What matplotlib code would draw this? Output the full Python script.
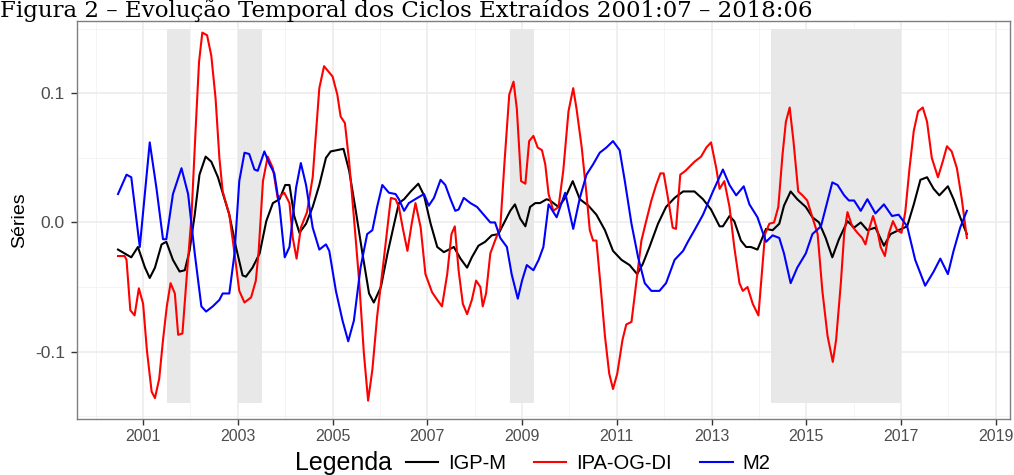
import matplotlib
matplotlib.use("Agg")
import matplotlib.pyplot as plt
from matplotlib.lines import Line2D

# series (year, value)
igp_x = [2000.47, 2000.61, 2000.75, 2000.89, 2001.04, 2001.14, 2001.25, 2001.39, 2001.49, 2001.63,
         2001.77, 2001.88, 2001.98, 2002.09, 2002.19, 2002.32, 2002.44, 2002.58, 2002.72, 2002.82,
         2002.96, 2003.10, 2003.17, 2003.31, 2003.46, 2003.60, 2003.74, 2003.88, 2004.00, 2004.09,
         2004.19, 2004.30, 2004.44, 2004.58, 2004.72, 2004.86, 2004.96, 2005.10, 2005.23, 2005.35,
         2005.49, 2005.63, 2005.77, 2005.87, 2006.02, 2006.16, 2006.30, 2006.40, 2006.51, 2006.65,
         2006.81, 2006.93, 2007.07, 2007.21, 2007.35, 2007.56, 2007.70, 2007.84, 2007.94, 2008.08,
         2008.22, 2008.36, 2008.50, 2008.64, 2008.75, 2008.85, 2008.96, 2009.07, 2009.17, 2009.28,
         2009.38, 2009.52, 2009.59, 2009.77, 2009.91, 2010.07, 2010.22, 2010.40, 2010.57, 2010.75,
         2010.92, 2011.10, 2011.27, 2011.43, 2011.55, 2011.69, 2011.87, 2012.04, 2012.22, 2012.40,
         2012.64, 2012.82, 2012.99, 2013.17, 2013.24, 2013.38, 2013.48, 2013.62, 2013.73, 2013.83,
         2013.97, 2014.15, 2014.29, 2014.43, 2014.53, 2014.67, 2014.81, 2014.99, 2015.13, 2015.27,
         2015.41, 2015.55, 2015.69, 2015.87, 2016.01, 2016.15, 2016.29, 2016.46, 2016.64, 2016.78,
         2016.95, 2017.13, 2017.27, 2017.41, 2017.55, 2017.69, 2017.81, 2017.99, 2018.11, 2018.25,
         2018.39]
igp_y = [-0.021, -0.024, -0.027, -0.019, -0.035, -0.043, -0.035, -0.017, -0.015, -0.029,
         -0.038, -0.037, -0.022, 0.006, 0.037, 0.051, 0.047, 0.035, 0.018, 0.006,
         -0.019, -0.041, -0.042, -0.035, -0.024, 0.001, 0.015, 0.018, 0.029, 0.029,
         0.005, -0.008, -0.001, 0.012, 0.029, 0.050, 0.055, 0.056, 0.057, 0.040,
         0.009, -0.024, -0.055, -0.062, -0.050, -0.024, -0.001, 0.015, 0.018, 0.024,
         0.030, 0.021, -0.001, -0.019, -0.023, -0.019, -0.028, -0.035, -0.027, -0.018,
         -0.015, -0.010, -0.009, 0.001, 0.009, 0.014, 0.003, -0.003, 0.012, 0.015,
         0.015, 0.018, 0.017, 0.012, 0.019, 0.032, 0.018, 0.013, 0.006, -0.006,
         -0.022, -0.029, -0.033, -0.040, -0.032, -0.019, -0.001, 0.012, 0.019, 0.024,
         0.024, 0.018, 0.010, -0.003, -0.003, 0.005, 0.001, -0.014, -0.019, -0.019,
         -0.021, -0.005, -0.006, -0.001, 0.013, 0.024, 0.018, 0.012, 0.004, 0.000,
         -0.012, -0.027, -0.013, 0.001, -0.004, 0.000, -0.006, -0.004, -0.018, -0.009,
         -0.006, -0.003, 0.014, 0.033, 0.035, 0.026, 0.021, 0.028, 0.018, 0.004,
         -0.009]

ipa_x = [2000.47, 2000.61, 2000.65, 2000.73, 2000.82, 2000.91, 2001.00, 2001.08, 2001.18, 2001.25,
         2001.34, 2001.42, 2001.50, 2001.58, 2001.67, 2001.74, 2001.83, 2001.91, 2002.02, 2002.11,
         2002.18, 2002.25, 2002.35, 2002.44, 2002.53, 2002.61, 2002.68, 2002.82, 2002.93, 2003.03,
         2003.14, 2003.28, 2003.38, 2003.44, 2003.53, 2003.63, 2003.74, 2003.84, 2003.98, 2004.09,
         2004.16, 2004.24, 2004.33, 2004.46, 2004.58, 2004.72, 2004.82, 2005.00, 2005.10, 2005.17,
         2005.26, 2005.35, 2005.45, 2005.56, 2005.66, 2005.75, 2005.84, 2005.94, 2006.08, 2006.23,
         2006.33, 2006.40, 2006.48, 2006.58, 2006.67, 2006.75, 2006.86, 2006.96, 2007.10, 2007.21,
         2007.31, 2007.42, 2007.51, 2007.58, 2007.66, 2007.75, 2007.84, 2007.94, 2008.03, 2008.12,
         2008.17, 2008.24, 2008.33, 2008.43, 2008.54, 2008.63, 2008.73, 2008.82, 2008.89, 2008.98,
         2009.07, 2009.15, 2009.24, 2009.33, 2009.42, 2009.49, 2009.56, 2009.66, 2009.77, 2009.87,
         2009.98, 2010.08, 2010.15, 2010.26, 2010.36, 2010.43, 2010.50, 2010.57, 2010.66, 2010.75,
         2010.84, 2010.92, 2011.01, 2011.12, 2011.20, 2011.31, 2011.41, 2011.52, 2011.62, 2011.73,
         2011.83, 2011.92, 2011.99, 2012.08, 2012.18, 2012.25, 2012.34, 2012.45, 2012.64, 2012.78,
         2012.89, 2012.99, 2013.10, 2013.17, 2013.27, 2013.38, 2013.48, 2013.59, 2013.66, 2013.76,
         2013.87, 2013.99, 2014.06, 2014.13, 2014.22, 2014.32, 2014.41, 2014.50, 2014.57, 2014.65,
         2014.73, 2014.83, 2014.92, 2015.02, 2015.13, 2015.24, 2015.34, 2015.45, 2015.56, 2015.63,
         2015.73, 2015.80, 2015.87, 2015.97, 2016.08, 2016.18, 2016.25, 2016.32, 2016.41, 2016.50,
         2016.57, 2016.66, 2016.74, 2016.83, 2016.92, 2017.01, 2017.09, 2017.18, 2017.27, 2017.36,
         2017.46, 2017.55, 2017.65, 2017.78, 2017.88, 2017.97, 2018.07, 2018.18, 2018.28, 2018.39]
ipa_y = [-0.026, -0.026, -0.029, -0.068, -0.072, -0.051, -0.063, -0.099, -0.131, -0.136,
         -0.121, -0.091, -0.065, -0.047, -0.055, -0.087, -0.086, -0.047, 0.004, 0.073,
         0.124, 0.147, 0.145, 0.129, 0.096, 0.050, 0.024, 0.006, -0.024, -0.053,
         -0.062, -0.058, -0.045, -0.022, 0.032, 0.051, 0.042, 0.019, 0.023, 0.015,
         -0.012, -0.028, -0.004, 0.008, 0.035, 0.104, 0.121, 0.113, 0.099, 0.082,
         0.077, 0.047, 0.004, -0.045, -0.101, -0.138, -0.114, -0.073, -0.029, 0.019,
         0.018, 0.012, -0.004, -0.022, -0.001, 0.015, -0.004, -0.040, -0.054, -0.060,
         -0.065, -0.040, -0.009, -0.003, -0.037, -0.063, -0.071, -0.060, -0.045, -0.050,
         -0.065, -0.055, -0.024, -0.014, -0.004, 0.047, 0.099, 0.109, 0.088, 0.032,
         0.030, 0.063, 0.067, 0.058, 0.056, 0.045, 0.022, 0.009, 0.012, 0.040,
         0.086, 0.104, 0.088, 0.058, 0.022, -0.006, -0.014, -0.014, -0.050, -0.088,
         -0.117, -0.129, -0.117, -0.091, -0.079, -0.077, -0.047, -0.014, 0.001, 0.017,
         0.029, 0.038, 0.038, 0.019, -0.004, -0.005, 0.037, 0.040, 0.047, 0.051,
         0.058, 0.062, 0.042, 0.026, 0.032, 0.012, -0.019, -0.047, -0.053, -0.050,
         -0.063, -0.072, -0.040, -0.009, -0.001, 0.000, 0.012, 0.053, 0.078, 0.089,
         0.063, 0.024, 0.021, 0.017, 0.004, -0.009, -0.053, -0.088, -0.108, -0.091,
         -0.047, -0.009, 0.008, -0.003, -0.008, -0.012, -0.017, -0.006, 0.005, -0.006,
         -0.019, -0.026, -0.009, 0.001, -0.006, -0.008, 0.008, 0.042, 0.071, 0.086,
         0.089, 0.078, 0.050, 0.035, 0.047, 0.059, 0.055, 0.042, 0.019, -0.012]

m2_x = [2000.47, 2000.65, 2000.75, 2000.93, 2001.14, 2001.28, 2001.42, 2001.49, 2001.63, 2001.81,
        2001.95, 2002.09, 2002.23, 2002.33, 2002.47, 2002.61, 2002.68, 2002.82, 2002.93, 2003.03,
        2003.14, 2003.24, 2003.35, 2003.42, 2003.56, 2003.67, 2003.77, 2003.88, 2003.99, 2004.09,
        2004.23, 2004.33, 2004.44, 2004.58, 2004.72, 2004.86, 2004.93, 2005.07, 2005.21, 2005.33,
        2005.45, 2005.59, 2005.73, 2005.84, 2005.94, 2006.05, 2006.19, 2006.33, 2006.40, 2006.51,
        2006.61, 2006.79, 2006.93, 2007.03, 2007.14, 2007.28, 2007.38, 2007.49, 2007.59, 2007.66,
        2007.77, 2007.91, 2008.05, 2008.19, 2008.33, 2008.43, 2008.54, 2008.68, 2008.78, 2008.91,
        2009.00, 2009.10, 2009.24, 2009.35, 2009.45, 2009.56, 2009.73, 2009.91, 2010.08, 2010.22,
        2010.36, 2010.50, 2010.64, 2010.78, 2010.92, 2011.06, 2011.17, 2011.31, 2011.45, 2011.59,
        2011.73, 2011.90, 2012.04, 2012.22, 2012.40, 2012.50, 2012.64, 2012.82, 2013.03, 2013.24,
        2013.38, 2013.52, 2013.68, 2013.80, 2013.97, 2014.15, 2014.29, 2014.43, 2014.53, 2014.67,
        2014.81, 2014.99, 2015.13, 2015.31, 2015.45, 2015.55, 2015.66, 2015.80, 2015.90, 2016.01,
        2016.15, 2016.29, 2016.46, 2016.64, 2016.81, 2016.95, 2017.13, 2017.30, 2017.51, 2017.69,
        2017.83, 2017.99, 2018.11, 2018.25, 2018.39]
m2_y = [0.022, 0.037, 0.035, -0.019, 0.062, 0.027, -0.013, -0.013, 0.022, 0.042,
        0.022, -0.024, -0.065, -0.069, -0.065, -0.060, -0.055, -0.055, -0.024, 0.032,
        0.054, 0.053, 0.041, 0.040, 0.055, 0.045, 0.038, 0.012, -0.027, -0.019,
        0.027, 0.046, 0.029, -0.004, -0.021, -0.017, -0.022, -0.053, -0.076, -0.092,
        -0.076, -0.035, -0.009, -0.006, 0.012, 0.029, 0.023, 0.022, 0.018, 0.009,
        0.015, 0.019, 0.022, 0.013, 0.019, 0.033, 0.029, 0.018, 0.009, 0.010,
        0.019, 0.015, 0.012, 0.006, 0.000, 0.000, -0.012, -0.019, -0.040, -0.059,
        -0.045, -0.033, -0.037, -0.029, -0.019, 0.014, 0.004, 0.023, -0.005, 0.019,
        0.037, 0.045, 0.054, 0.058, 0.063, 0.056, 0.032, -0.001, -0.027, -0.047,
        -0.053, -0.053, -0.047, -0.029, -0.022, -0.015, -0.006, 0.006, 0.024, 0.041,
        0.029, 0.021, 0.028, 0.014, 0.004, -0.015, -0.010, -0.012, -0.024, -0.047,
        -0.035, -0.024, -0.009, -0.003, 0.017, 0.031, 0.029, 0.021, 0.017, 0.017,
        0.009, 0.018, 0.007, 0.014, 0.005, 0.006, -0.003, -0.029, -0.049, -0.038,
        -0.028, -0.040, -0.022, -0.004, 0.009]

# recession bands (start, end) and their vertical span
rec_start = [2001.5, 2003.0, 2008.75, 2014.25]
rec_end = [2002.0, 2003.5, 2009.25, 2017.0]
rec_low, rec_high = -0.14, 0.15

series_names = ["IGP-M", "IPA-OG-DI", "M2"]
series_colors = ["black", "red", "blue"]

year_ticks = list(range(2001, 2020, 2))
minor_years = list(range(2000, 2020, 2))
val_ticks = [-0.1, 0.0, 0.1]
val_labels = ["-0.1", "0.0", "0.1"]
minor_vals = [-0.15, -0.05, 0.05, 0.15]

plt.rcParams["font.family"] = ["Liberation Sans", "DejaVu Sans"]

fig = plt.figure(figsize=(10.14, 4.75), dpi=100)
# panel: x 77..1010 px, y 21..419 px
ax = fig.add_axes([0.0762, 0.1179, 0.9198, 0.8379])

ax.set_xlim(1999.61, 2019.30)
ax.set_ylim(-0.1522, 0.156)

for x in year_ticks:
    ax.axvline(x, color="#EBEBEB", lw=1.1, zorder=0)
for x in minor_years:
    ax.axvline(x, color="#F2F2F2", lw=0.6, zorder=0)
for y in val_ticks:
    ax.axhline(y, color="#EBEBEB", lw=1.1, zorder=0)
for y in minor_vals:
    ax.axhline(y, color="#F2F2F2", lw=0.6, zorder=0)

for a, b in zip(rec_start, rec_end):
    ax.fill_between([a, b], rec_low, rec_high, color="#E8E8E8", lw=0, zorder=1)

ax.plot(igp_x, igp_y, color=series_colors[0], lw=1.5, zorder=3)
ax.plot(ipa_x, ipa_y, color=series_colors[1], lw=1.5, zorder=3)
ax.plot(m2_x, m2_y, color=series_colors[2], lw=1.5, zorder=3)

ax.set_xticks(year_ticks)
ax.set_xticklabels([str(y) for y in year_ticks])
ax.set_yticks(val_ticks)
ax.set_yticklabels(val_labels)
ax.tick_params(direction="out", length=4, width=1, color="#333333",
               labelcolor="#4D4D4D", pad=3)
ax.tick_params(axis="x", labelsize=11.5)
ax.tick_params(axis="y", labelsize=12.5, pad=5)
for s in ax.spines.values():
    s.set_color("#7F7F7F")
    s.set_linewidth(1.0)

ax.set_ylabel("Séries", fontsize=14, labelpad=5)

# legend along the bottom
fig.text(0.339, 0.025, "Legenda", fontsize=18, ha="center", va="center")
handles = [Line2D([], [], color=c, lw=1.5) for c in series_colors]
fig.legend(handles, series_names, loc="center", bbox_to_anchor=(0.580, 0.025),
           ncol=3, frameon=False, fontsize=14.5, handlelength=1.6, handletextpad=0.5,
           columnspacing=1.4, borderaxespad=0, borderpad=0)

# figure caption above the panel
fig.text(0.0, 1 - 17.5 / 475, "Figura 2 – Evolução Temporal dos Ciclos Extraídos 2001:07 – 2018:06",
         fontsize=16.5, family=["DejaVu Serif"], ha="left", va="baseline")

fig.savefig("out.png", dpi=100)
